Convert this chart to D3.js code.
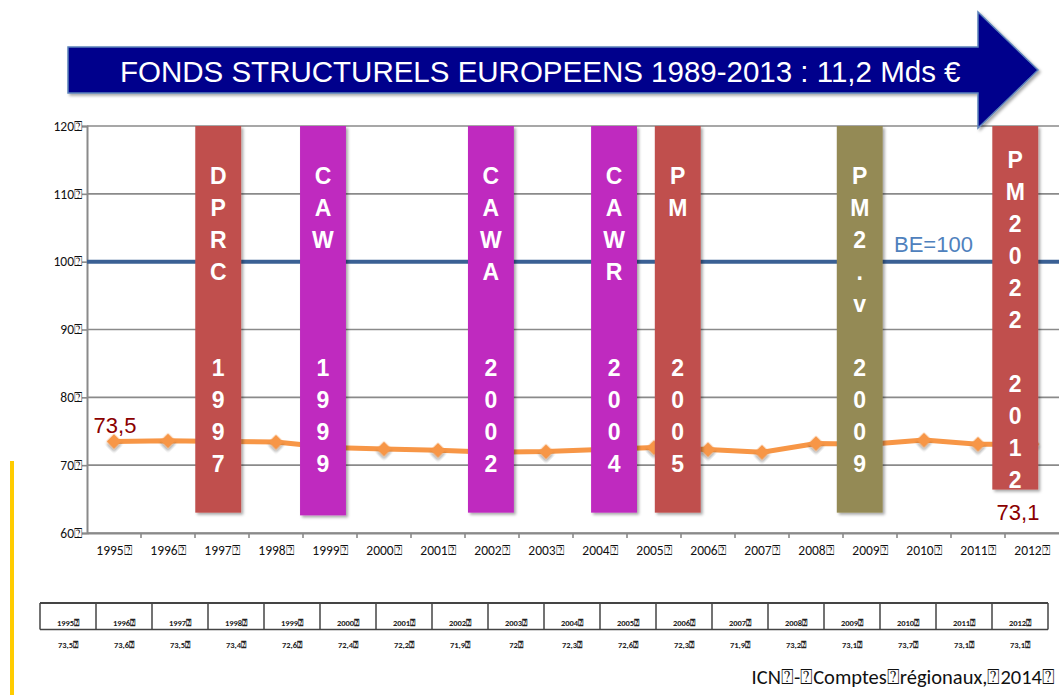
<!DOCTYPE html>
<html>
<head>
<meta charset="utf-8">
<script src="https://cdn.jsdelivr.net/npm/d3@7/dist/d3.min.js"></script>
<style>
  html, body { margin: 0; padding: 0; background: #fff; }
  svg { display: block; }
</style>
</head>
<body>
<svg id="chart" width="1059" height="695"></svg>
<script>
// Regional GDP per capita index (BE = 100), 1995-2012
const years = [1995, 1996, 1997, 1998, 1999, 2000, 2001, 2002, 2003, 2004, 2005, 2006, 2007, 2008, 2009, 2010, 2011, 2012];
const values = [73.5, 73.6, 73.5, 73.4, 72.6, 72.4, 72.2, 71.9, 72, 72.3, 72.6, 72.3, 71.9, 73.2, 73.1, 73.7, 73.1, 73.1];
const valueLabels = ["73,5", "73,6", "73,5", "73,4", "72,6", "72,4", "72,2", "71,9", "72", "72,3", "72,6", "72,3", "71,9", "73,2", "73,1", "73,7", "73,1", "73,1"];
const yTicks = [60, 70, 80, 90, 100, 110, 120];
const reference = 100;
const referenceLabel = "BE=100";

// Regional programmes: name, year shown, where the band sits on the time axis, lower end
const programmes = ["DPRC", "CAW", "CAWA", "CAWR", "PM", "PM2.v", "PM2022"];
const programmeYears = ["1997", "1999", "2002", "2004", "2005", "2009", "2012"];
const programmeAt = [1996.93, 1998.87, 2001.98, 2004.26, 2005.44, 2008.81, 2011.69];
const programmeLow = [63, 62.6, 63, 63, 63, 63, 66.4];
const programmeColors = ["#C0504D", "#BF2ABF", "#BF2ABF", "#BF2ABF", "#C0504D", "#948A54", "#C0504D"];

const title = "FONDS STRUCTURELS EUROPEENS 1989-2013 : 11,2 Mds €";
const source = "ICN\u2370-\u2370Comptes\u2370régionaux,\u23702014\u2370";
const box = "\u2370";

const svg = d3.select("#chart");
const labelFont = "Carlito, Lato, 'Liberation Sans', sans-serif";
const arial = "'Liberation Sans', Arial, sans-serif";

const defs = svg.append("defs");
const shadow = defs.append("filter").attr("id", "shadow")
  .attr("x", "-20%").attr("y", "-20%").attr("width", "150%").attr("height", "150%");
shadow.append("feDropShadow").attr("dx", 2).attr("dy", 2).attr("stdDeviation", 1.6)
  .attr("flood-color", "#000").attr("flood-opacity", 0.35);

// Scales
const x = d3.scaleBand().domain(years).range([87, 1059]).padding(0);
const xc = d3.scaleLinear().domain([years[0], years[years.length - 1]])
  .range([x(years[0]) + x.bandwidth() / 2, x(years[years.length - 1]) + x.bandwidth() / 2]);
const y = d3.scaleLinear().domain([60, 120]).range([533, 126]);

// Grid lines
svg.append("g").selectAll("line").data(yTicks).join("line")
  .attr("x1", 87).attr("x2", 1059)
  .attr("y1", d => y(d)).attr("y2", d => y(d))
  .attr("stroke", "#8a8a8a").attr("stroke-width", 1.6);

// Axes
const yAxis = svg.append("g").attr("transform", "translate(87,0)")
  .call(d3.axisLeft(y).tickValues(yTicks).tickSize(5).tickFormat(d => d + box));
yAxis.select(".domain").attr("stroke", "#8a8a8a").attr("stroke-width", 2);
yAxis.selectAll(".tick line").attr("stroke", "#8a8a8a").attr("stroke-width", 1.6);
yAxis.selectAll(".tick text").attr("font-family", labelFont).attr("font-size", 13.5)
  .attr("fill", "#111").attr("x", -5);

const xAxis = svg.append("g").attr("transform", `translate(0,${y(60)})`)
  .call(d3.axisBottom(x).tickSize(0).tickFormat(d => d + box));
xAxis.select(".domain").attr("stroke", "#8a8a8a").attr("stroke-width", 2);
xAxis.selectAll(".tick text").attr("font-family", labelFont).attr("font-size", 13.5)
  .attr("fill", "#111").attr("dy", "1.4em");
svg.append("g").selectAll("line").data(years.slice(1)).join("line")
  .attr("x1", d => x(d)).attr("x2", d => x(d))
  .attr("y1", y(60)).attr("y2", y(60) + 5)
  .attr("stroke", "#8a8a8a").attr("stroke-width", 1.6);

// Reference line (BE = 100)
svg.append("line")
  .attr("x1", 87).attr("x2", 1059)
  .attr("y1", y(reference)).attr("y2", y(reference))
  .attr("stroke", "#3A6094").attr("stroke-width", 4);
svg.append("text")
  .attr("x", 894).attr("y", y(reference) - 10)
  .attr("font-family", arial).attr("font-size", 22).attr("fill", "#4F81BD")
  .text(referenceLabel);

// Data series
const line = d3.line().x((d, i) => xc(years[i])).y(d => y(d));
svg.append("path").datum(values)
  .attr("d", line).attr("fill", "none")
  .attr("stroke", "#F79646").attr("stroke-width", 5).attr("stroke-linejoin", "round");
svg.append("g").selectAll("path").data(values).join("path")
  .attr("d", d3.symbol(d3.symbolSquare, 112)())
  .attr("transform", (d, i) => `translate(${xc(years[i])},${y(d)}) rotate(45)`)
  .attr("fill", "#F79646").attr("filter", "url(#shadow)");

// Programme bands
const bandW = 0.85;
const textCenter = (y(120) + y(63)) / 2;
const lineGap = 32;
const progData = programmes.map((name, i) => {
  const letters = Array.from(name);
  const pad = Math.max(6, letters.length + 1);
  const lines = letters.concat(d3.range(pad - letters.length).map(() => ""), Array.from(programmeYears[i]));
  return { name, lines, at: programmeAt[i], low: programmeLow[i], color: programmeColors[i], i };
});

const bandW_px = xc(years[0] + bandW) - xc(years[0]);
progData.forEach(p => {
  defs.append("clipPath").attr("id", "clip" + p.i)
    .append("rect")
    .attr("x", xc(p.at) - bandW_px / 2).attr("y", y(120))
    .attr("width", bandW_px).attr("height", y(p.low) - y(120));
});

const pg = svg.append("g").selectAll("g").data(progData).join("g");
pg.append("rect")
  .attr("x", d => xc(d.at) - bandW_px / 2).attr("y", y(120))
  .attr("width", bandW_px).attr("height", d => y(d.low) - y(120))
  .attr("fill", d => d.color).attr("filter", "url(#shadow)");
pg.append("g").attr("clip-path", d => `url(#clip${d.i})`)
  .selectAll("text").data(d => d.lines.map((t, k) => ({ t, k, n: d.lines.length, cx: xc(d.at) })))
  .join("text")
  .attr("x", d => d.cx)
  .attr("y", d => textCenter + (d.k - (d.n - 1) / 2) * lineGap)
  .attr("dy", "0.36em")
  .attr("text-anchor", "middle")
  .attr("font-family", arial).attr("font-weight", "bold").attr("font-size", 23)
  .attr("fill", "#fff")
  .text(d => d.t);

// Value labels at both ends of the series
const first = 0, last = years.length - 1;
svg.append("text")
  .attr("x", xc(years[first]) + 1).attr("y", y(values[first]) - 8)
  .attr("text-anchor", "middle")
  .attr("font-family", arial).attr("font-size", 22).attr("fill", "#8B0000")
  .text(valueLabels[first]);
svg.append("text")
  .attr("x", xc(years[last]) - 14).attr("y", y(programmeLow[6]) + 30)
  .attr("text-anchor", "middle")
  .attr("font-family", arial).attr("font-size", 22).attr("fill", "#8B0000")
  .text(valueLabels[last]);

// Title arrow
const ax0 = 68, ax1 = 978, axTip = 1038, bodyTop = 47, bodyBot = 93, headTop = 12, headBot = 128;
const arrow = d3.path();
arrow.moveTo(ax0, bodyTop);
arrow.lineTo(ax1, bodyTop);
arrow.lineTo(ax1, headTop);
arrow.lineTo(axTip, (bodyTop + bodyBot) / 2);
arrow.lineTo(ax1, headBot);
arrow.lineTo(ax1, bodyBot);
arrow.lineTo(ax0, bodyBot);
arrow.closePath();
svg.append("path").attr("d", arrow.toString())
  .attr("fill", "#00008C").attr("stroke", "#5B82BA").attr("stroke-width", 1.5)
  .attr("filter", "url(#shadow)");
svg.append("text")
  .attr("x", 120).attr("y", 82)
  .attr("font-family", arial).attr("font-size", 29.5).attr("fill", "#fff")
  .text(title);

// Data table
const tbl = svg.append("g");
const tx = d3.scaleBand().domain(years).range([40, 1048]);
tbl.append("line").attr("x1", 40).attr("x2", 1048).attr("y1", 603).attr("y2", 603)
  .attr("stroke", "#444").attr("stroke-width", 2);
tbl.append("line").attr("x1", 40).attr("x2", 1048).attr("y1", 629.5).attr("y2", 629.5)
  .attr("stroke", "#444").attr("stroke-width", 1.5);
tbl.selectAll("line.v").data(years.concat(["end"])).join("line").attr("class", "v")
  .attr("x1", d => d === "end" ? 1048 : tx(d)).attr("x2", d => d === "end" ? 1048 : tx(d))
  .attr("y1", 603).attr("y2", 629.5)
  .attr("stroke", "#444").attr("stroke-width", 1.5);
tbl.selectAll("text.h").data(years).join("text").attr("class", "h")
  .attr("x", d => tx(d) + tx.bandwidth() / 2).attr("y", 626)
  .attr("text-anchor", "middle")
  .attr("font-family", labelFont).attr("font-weight", "bold").attr("font-size", 8.5).attr("fill", "#222")
  .text(d => d + box);
tbl.selectAll("text.v").data(valueLabels).join("text").attr("class", "v")
  .attr("x", (d, i) => tx(years[i]) + tx.bandwidth() / 2).attr("y", 648)
  .attr("text-anchor", "middle")
  .attr("font-family", labelFont).attr("font-weight", "bold").attr("font-size", 8.5).attr("fill", "#222")
  .text(d => d + box);

// Source
svg.append("text")
  .attr("x", 1055).attr("y", 684)
  .attr("text-anchor", "end")
  .attr("font-family", labelFont).attr("font-size", 20.5).attr("fill", "#111")
  .text(source);

// Left accent line
svg.append("line").attr("x1", 12).attr("x2", 12).attr("y1", 461).attr("y2", 695)
  .attr("stroke", "#FFCC00").attr("stroke-width", 4);
</script>
</body>
</html>
